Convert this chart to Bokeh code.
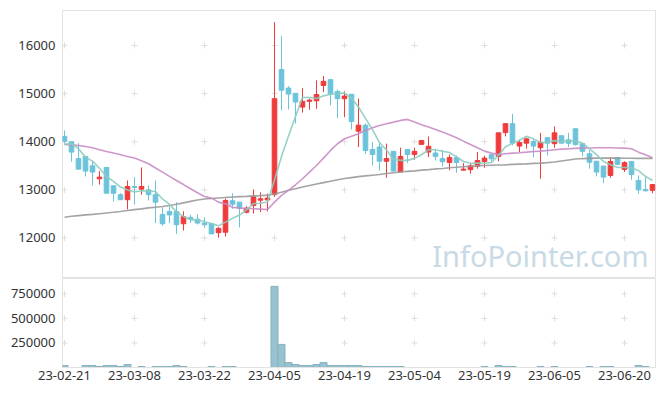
from bokeh.plotting import figure
from bokeh.layouts import column
from bokeh.models import Range1d, FixedTicker, BasicTickFormatter, Label, ColumnDataSource
from bokeh.embed import file_html
from bokeh.resources import INLINE

# ---------------- data ----------------
dates = [
    "2023-02-21", "2023-02-22", "2023-02-23", "2023-02-24", "2023-02-27", "2023-02-28",
    "2023-03-02", "2023-03-03", "2023-03-06", "2023-03-07", "2023-03-08", "2023-03-09",
    "2023-03-10", "2023-03-13", "2023-03-14", "2023-03-15", "2023-03-16", "2023-03-17",
    "2023-03-20", "2023-03-21", "2023-03-22", "2023-03-23", "2023-03-24", "2023-03-27",
    "2023-03-28", "2023-03-29", "2023-03-30", "2023-03-31", "2023-04-03", "2023-04-04",
    "2023-04-05", "2023-04-06", "2023-04-07", "2023-04-10", "2023-04-11", "2023-04-12",
    "2023-04-13", "2023-04-14", "2023-04-17", "2023-04-18", "2023-04-19", "2023-04-20",
    "2023-04-21", "2023-04-24", "2023-04-25", "2023-04-26", "2023-04-27", "2023-04-28",
    "2023-05-02", "2023-05-03", "2023-05-04", "2023-05-08", "2023-05-09", "2023-05-10",
    "2023-05-11", "2023-05-12", "2023-05-15", "2023-05-16", "2023-05-17", "2023-05-18",
    "2023-05-19", "2023-05-22", "2023-05-23", "2023-05-24", "2023-05-25", "2023-05-26",
    "2023-05-30", "2023-05-31", "2023-06-01", "2023-06-02", "2023-06-05", "2023-06-07",
    "2023-06-08", "2023-06-09", "2023-06-12", "2023-06-13", "2023-06-14", "2023-06-15",
    "2023-06-16", "2023-06-19", "2023-06-20", "2023-06-21", "2023-06-22", "2023-06-23",
    "2023-06-26",
]

open_ = [14110, 14000, 13650, 13695, 13500, 13230, 13465, 13085, 12900, 12795,
         13070, 13015, 13000, 12900, 12490, 12550, 12550, 12295, 12430, 12390,
         12310, 12295, 12110, 12120, 12775, 12745, 12535, 12675, 12785, 12790,
         12900, 15500, 15115, 15005, 14720, 14840, 14850, 15170, 15290, 15045,
         14895, 14985, 14220, 14345, 13840, 13890, 13595, 13800, 13370, 13840,
         13735, 13945, 13785, 13765, 13650, 13570, 13670, 13410, 13420, 13490,
         13590, 13730, 13695, 14190, 14375, 13910, 13970, 14005, 13875, 14085,
         13960, 14125, 14040, 14270, 13960, 13750, 13595, 13495, 13300, 13670,
         13425, 13590, 13195, 13010, 12990]
high = [14235, 14000, 13970, 13700, 13590, 13390, 13465, 13085, 12930, 13195,
        13265, 13465, 13090, 13195, 12635, 12655, 12745, 12555, 12480, 12490,
        12430, 12295, 12225, 12820, 12930, 12745, 12660, 13010, 12950, 12920,
        16485, 16195, 15155, 15005, 15115, 14895, 15275, 15365, 15290, 15085,
        15045, 14985, 14895, 14375, 13990, 13980, 13960, 13800, 13875, 13840,
        13875, 14025, 14110, 13855, 13835, 13735, 13715, 13555, 13555, 13785,
        13710, 13730, 14185, 14385, 14580, 14040, 14085, 14065, 14185, 14085,
        14320, 14125, 14185, 14270, 13960, 13820, 13595, 13495, 13680, 13670,
        13595, 13590, 13300, 13265, 13110]
low = [13970, 13585, 13430, 13280, 13090, 13110, 12930, 12760, 12795, 12595,
       12695, 12900, 12780, 12310, 12255, 12310, 12085, 12155, 12310, 12280,
       12210, 12085, 12005, 12030, 12605, 12220, 12510, 12505, 12535, 12550,
       12850, 14650, 14670, 14375, 14605, 14665, 14685, 15030, 14755, 14490,
       14510, 14255, 13890, 13750, 13505, 13400, 13250, 13390, 13370, 13555,
       13625, 13945, 13680, 13610, 13485, 13405, 13355, 13400, 13335, 13440,
       13460, 13580, 13595, 14110, 13925, 13785, 13855, 13680, 13230, 13715,
       13875, 13970, 13890, 13920, 13700, 13440, 13280, 13140, 13250, 13510,
       13370, 13210, 12920, 12970, 12930]
close = [14010, 13785, 13430, 13390, 13370, 13265, 12930, 12930, 12795, 13070,
         13050, 13070, 12900, 12745, 12295, 12480, 12275, 12445, 12390, 12310,
         12275, 12085, 12200, 12780, 12700, 12620, 12620, 12855, 12815, 12830,
         14895, 15070, 14990, 14825, 14840, 14865, 14980, 15255, 14995, 14895,
         14950, 14420, 14345, 13820, 13735, 13595, 13650, 13390, 13695, 13735,
         13800, 14025, 13905, 13695, 13585, 13670, 13570, 13430, 13500, 13610,
         13660, 13645, 14185, 14375, 13970, 13985, 14060, 13910, 13990, 13970,
         14185, 13970, 13970, 13940, 13800, 13575, 13370, 13265, 13590, 13530,
         13565, 13320, 13000, 12980, 13110]
volume = [20000, 0, 0, 20000, 20000, 10000, 20000, 20000, 10000, 30000,
          0, 10000, 0, 10000, 10000, 10000, 20000, 10000, 0, 0,
          0, 10000, 0, 10000, 10000, 0, 0, 0, 0, 0,
          826000, 235000, 50000, 30000, 20000, 20000, 30000, 50000, 20000, 20000,
          20000, 20000, 20000, 10000, 10000, 10000, 10000, 10000, 10000, 0,
          0, 0, 0, 0, 0, 0, 0, 0, 0, 0,
          10000, 0, 20000, 10000, 10000, 0, 0, 0, 10000, 0,
          10000, 0, 0, 0, 0, 10000, 0, 10000, 10000, 0,
          0, 0, 20000, 10000, 0]
ma5 = [13945, 13955, 13855, 13680, 13597, 13448, 13277, 13177, 13058, 12998,
       12955, 12983, 12977, 12967, 12812, 12698, 12539, 12448, 12377, 12380,
       12339, 12301, 12252, 12330, 12408, 12477, 12584, 12715, 12722, 12748,
       13203, 13693, 14120, 14522, 14924, 14918, 14900, 14953, 14987, 14998,
       15015, 14903, 14721, 14486, 14254, 13983, 13829, 13638, 13613, 13613,
       13654, 13729, 13832, 13832, 13802, 13776, 13685, 13590, 13551, 13556,
       13554, 13569, 13720, 13895, 13967, 14032, 14115, 14060, 13983, 13983,
       14023, 14005, 14017, 14007, 13973, 13851, 13731, 13590, 13520, 13466,
       13464, 13454, 13401, 13279, 13195]
ma20 = [13945, 13935, 13923, 13900, 13875, 13835, 13798, 13765, 13730, 13695,
        13660, 13605, 13543, 13455, 13368, 13280, 13195, 13110, 13023, 12940,
        12863, 12828, 12745, 12710, 12640, 12620, 12615, 12607, 12600, 12592,
        12745, 12884, 12988, 13106, 13231, 13368, 13507, 13660, 13819, 13958,
        14062, 14116, 14166, 14235, 14291, 14339, 14374, 14408, 14443, 14464,
        14408, 14353, 14304, 14256, 14200, 14145, 14083, 14012, 13944, 13875,
        13805, 13763, 13735, 13750, 13763, 13771, 13784, 13798, 13805, 13819,
        13833, 13847, 13854, 13861, 13867, 13870, 13875, 13875, 13875, 13870,
        13867, 13854, 13784, 13730, 13667]
ma60 = [12430, 12450, 12465, 12480, 12490, 12505, 12520, 12535, 12550, 12570,
        12590, 12605, 12625, 12640, 12655, 12675, 12700, 12730, 12760, 12790,
        12810, 12820, 12830, 12840, 12850, 12860, 12865, 12875, 12880, 12890,
        12915, 12950, 12990, 13025, 13060, 13090, 13120, 13150, 13180, 13210,
        13235, 13255, 13275, 13290, 13305, 13320, 13340, 13355, 13370, 13385,
        13395, 13410, 13420, 13435, 13445, 13460, 13470, 13480, 13490, 13500,
        13505, 13510, 13515, 13520, 13530, 13535, 13540, 13550, 13555, 13565,
        13580, 13600, 13620, 13640, 13650, 13655, 13660, 13660, 13660, 13660,
        13658, 13656, 13655, 13655, 13655]

price_ticks = [12000, 13000, 14000, 15000, 16000]
volume_ticks = [250000, 500000, 750000]
date_tick_step = 10
watermark = "InfoPointer.com"

# ---------------- styling ----------------
UP = "#ef3b3b"
DOWN = "#6cc3da"
FONT = "Noto Sans"
LABEL_COLOR = "#333333"
BORDER = "#e3e3e3"
GRIDMARK = "#dedede"
LEFT = 62
FRAME_W = 593
WIDTH = LEFT + FRAME_W + 2

n = len(dates)
xs = list(range(n))
x_range = Range1d(-0.286, 84.43)

colors = [UP if c >= o else DOWN for o, c in zip(open_, close)]
src = ColumnDataSource(dict(
    x=xs, open=open_, high=high, low=low, close=close,
    top=[max(o, c) for o, c in zip(open_, close)],
    bottom=[min(o, c) for o, c in zip(open_, close)],
    color=colors, volume=volume, ma5=ma5, ma20=ma20, ma60=ma60,
))

date_ticks = list(range(0, n, date_tick_step))


def style(p):
    p.xgrid.visible = False
    p.ygrid.visible = False
    p.outline_line_color = BORDER
    p.outline_line_width = 1
    p.background_fill_color = "white"
    p.border_fill_color = "white"
    for ax in p.yaxis:
        ax.axis_line_color = None
        ax.major_tick_line_color = None
        ax.minor_tick_line_color = None
        ax.major_tick_out = 0
        ax.major_tick_in = 0
        ax.major_label_standoff = 7
        ax.major_label_text_font = FONT
        ax.major_label_text_font_size = "13px"
        ax.major_label_text_color = LABEL_COLOR


# ---------------- price chart ----------------
p1 = figure(width=WIDTH, height=278, output_backend="svg", toolbar_location=None,
            x_range=x_range, y_range=Range1d(11158, 16727),
            x_axis_location=None,
            min_border_left=LEFT, min_border_right=2, min_border_top=10, min_border_bottom=0)
style(p1)
p1.yaxis.ticker = FixedTicker(ticks=price_ticks)
p1.yaxis.formatter = BasicTickFormatter(use_scientific=False)

gx = [t for t in date_ticks for _ in price_ticks]
gy = [v for _ in date_ticks for v in price_ticks]
p1.scatter(x=gx, y=gy, marker="cross", size=6, line_color=GRIDMARK, line_width=1)

p1.add_layout(Label(x=83.43, y=11643, text=watermark, text_align="right",
                    text_baseline="middle", text_font=FONT, text_font_size="29px",
                    text_color="#c8dae5"))

p1.segment(x0="x", y0="low", x1="x", y1="high", line_color="color", line_width=1, source=src)
p1.vbar(x="x", width=0.66, top="top", bottom="bottom", fill_color="color",
        line_color="color", line_width=1, source=src)

p1.line(x="x", y="ma60", line_color="#9a9a9a", line_width=1.6, line_alpha=0.9, source=src)
p1.line(x="x", y="ma20", line_color="#c98bc4", line_width=1.6, line_alpha=0.9, source=src)
p1.line(x="x", y="ma5", line_color="#8ccdc0", line_width=1.6, line_alpha=0.9, source=src)

# ---------------- volume chart ----------------
p2 = figure(width=WIDTH, height=114, output_backend="svg", toolbar_location=None,
            x_range=x_range, y_range=Range1d(0, 906000),
            min_border_left=LEFT, min_border_right=2, min_border_top=0, min_border_bottom=25)
style(p2)
p2.yaxis.ticker = FixedTicker(ticks=volume_ticks)
p2.yaxis.formatter = BasicTickFormatter(use_scientific=False)

xa = p2.xaxis[0]
xa.ticker = FixedTicker(ticks=date_ticks)
xa.major_label_overrides = {i: dates[i][2:] for i in date_ticks}
xa.axis_line_color = BORDER
xa.major_tick_line_color = None
xa.minor_tick_line_color = None
xa.major_tick_out = 0
xa.major_tick_in = 0
xa.major_label_standoff = 3
xa.major_label_text_font = FONT
xa.major_label_text_font_size = "13px"
xa.major_label_text_color = LABEL_COLOR

vx = [t for t in date_ticks for _ in volume_ticks]
vy = [v for _ in date_ticks for v in volume_ticks]
p2.scatter(x=vx, y=vy, marker="cross", size=6, line_color=GRIDMARK, line_width=1)

p2.vbar(x="x", width=1.0, top="volume", bottom=0, fill_color="#98c2cf",
        line_color="#86b2c1", line_width=1, source=src)

layout = column(p1, p2, spacing=0)

open("out.html", "w").write(file_html(layout, INLINE))
